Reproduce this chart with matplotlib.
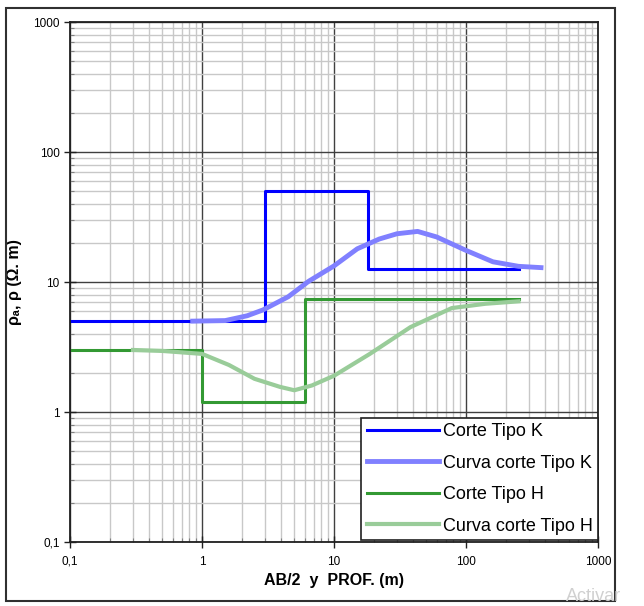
import numpy as np
import matplotlib
matplotlib.use("Agg")
import matplotlib.pyplot as plt
from matplotlib.ticker import LogLocator, FixedLocator, FixedFormatter, NullFormatter
from matplotlib.patches import Rectangle

plt.rcParams['font.family'] = ['Liberation Sans', 'DejaVu Sans']

# -----------------------------
# data
# -----------------------------
k_step_x = [0.1, 3, 18, 250]
k_step_y = [5, 50, 12.6, 12.6]

k_curve_x = [0.85, 1.5, 2.2, 2.9, 4.5, 6.4, 10, 15, 22, 30, 43, 60, 100, 160, 250, 370]
k_curve_y = [5.0, 5.05, 5.5, 6.1, 7.7, 10.1, 13.3, 18, 21.4, 23.5, 24.5, 22.2, 17.5, 14.3, 13.2, 12.9]

h_step_x = [0.1, 1, 6, 250]
h_step_y = [3, 1.2, 7.4, 7.4]

h_curve_x = [0.3, 0.5, 1, 1.6, 2.5, 3.9, 5, 6.8, 10, 18.7, 38, 78, 140, 250]
h_curve_y = [3, 2.95, 2.8, 2.3, 1.8, 1.56, 1.47, 1.6, 1.9, 2.8, 4.5, 6.3, 6.8, 7.1]

labels = ["Corte Tipo K", "Curva corte Tipo K", "Corte Tipo H", "Curva corte Tipo H"]
tick_vals = [0.1, 1, 10, 100, 1000]
tick_text = ["0,1", "1", "10", "100", "1000"]

# -----------------------------
# figure
# -----------------------------
fig = plt.figure(figsize=(6.44, 6.06), dpi=100)
ax = fig.add_axes([70/644, 1 - 542/606, 528/644, 520/606])

ax.plot(k_step_x, k_step_y, drawstyle='steps-post', color='#0000ff', lw=2.2, label=labels[0])
ax.plot(k_curve_x, k_curve_y, color='#8080ff', lw=3.5, label=labels[1])
ax.plot(h_step_x, h_step_y, drawstyle='steps-post', color='#339933', lw=2.2, label=labels[2])
ax.plot(h_curve_x, h_curve_y, color='#99cc99', lw=3, label=labels[3])

ax.set_xscale('log')
ax.set_yscale('log')
ax.set_xlim(0.1, 1000)
ax.set_ylim(0.1, 1000)

for axis in (ax.xaxis, ax.yaxis):
    axis.set_major_locator(FixedLocator(tick_vals))
    axis.set_major_formatter(FixedFormatter(tick_text))
    axis.set_minor_locator(LogLocator(base=10, subs=np.arange(2, 10)))
    axis.set_minor_formatter(NullFormatter())

ax.grid(True, which='minor', color='#c8c8c8', lw=1)
ax.grid(True, which='major', color='#404040', lw=1)
ax.set_axisbelow(True)

ax.tick_params(which='major', direction='inout', length=8, width=1, labelsize=8.5, color='#202020')
ax.tick_params(which='minor', direction='in', length=3, width=0.8, color='#808080')
ax.tick_params(axis='x', pad=6)
for sp in ax.spines.values():
    sp.set_linewidth(1.3)
    sp.set_color('#202020')

ax.set_xlabel("AB/2  y  PROF. (m)", fontsize=11.5, fontweight='bold', labelpad=4)
ax.set_ylabel("ρₐ, ρ (Ω. m)", fontsize=11.5, fontweight='bold', labelpad=8,
              family=['Liberation Sans', 'DejaVu Sans'])

leg = ax.legend(loc='lower right', bbox_to_anchor=(1.0, 0.004), fontsize=13,
                fancybox=False, framealpha=1, edgecolor='#202020',
                handlelength=4.0, handletextpad=0.2, labelspacing=0.8,
                borderpad=0.3, borderaxespad=0)
leg.get_frame().set_linewidth(1.2)

# outer frame round the whole chart
fig.patches.append(Rectangle((6/644, 1 - 601/606), 609/644, 593/606,
                             transform=fig.transFigure, fill=False,
                             ec='#303030', lw=1.5))
fig.text(566/644, 1/606, "Activar", fontsize=13, color='#d0d0d0', va='bottom')

fig.savefig("out.png", dpi=100)
